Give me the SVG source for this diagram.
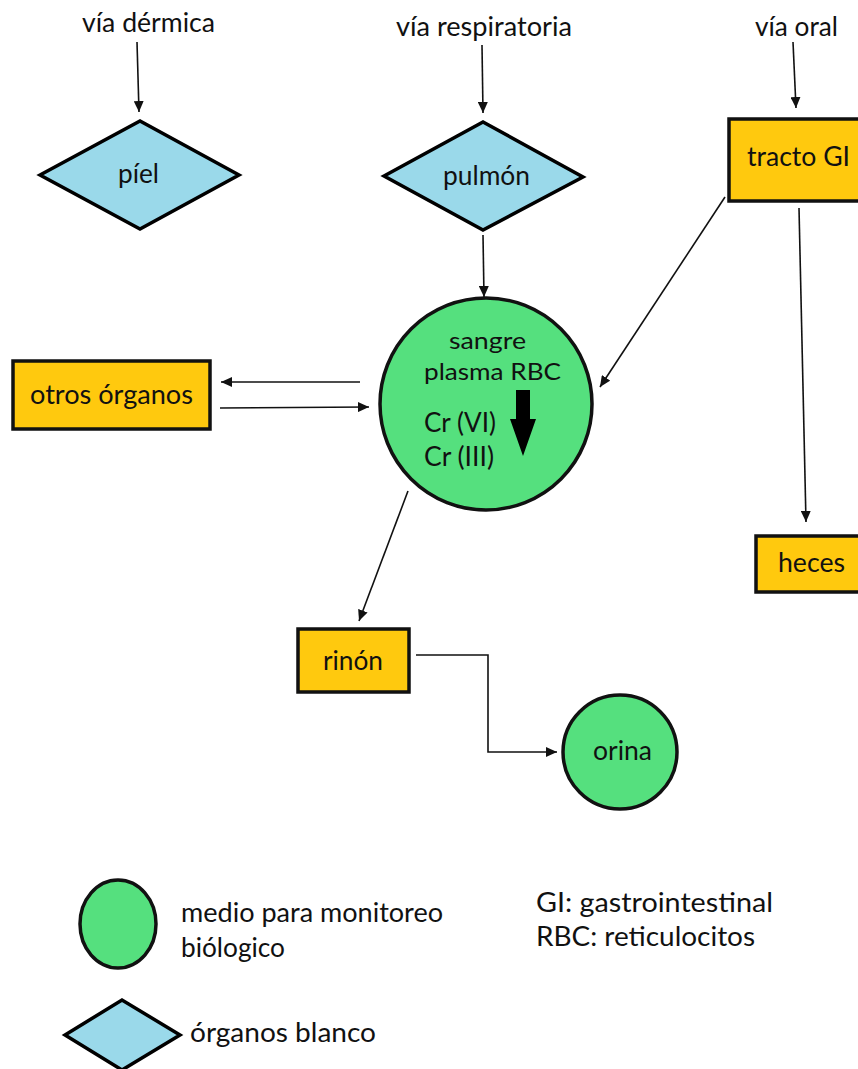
<svg xmlns="http://www.w3.org/2000/svg" width="858" height="1069" viewBox="0 0 858 1069">
<style>
text{font-family:Lato,"Open Sans","Liberation Sans",sans-serif;font-size:26px;fill:#111;}
.sm{font-size:24px;}
.dia{fill:#9AD9EA;stroke:#000;stroke-width:3.5;stroke-linejoin:miter;}
.box{fill:#FFC90E;stroke:#111;stroke-width:3.5;}
.circ{fill:#55E07E;stroke:#111;stroke-width:3.5;}
.con{fill:none;stroke:#111;stroke-width:1.6;marker-end:url(#ah);}
</style>
<defs>
<marker id="ah" markerUnits="userSpaceOnUse" markerWidth="11" markerHeight="10" refX="11" refY="5" orient="auto">
<path d="M0,0 L11,5 L0,10 z" fill="#111"/>
</marker>
</defs>
<g id="labels">
<text x="82" y="32" textLength="133" lengthAdjust="spacingAndGlyphs">vía dérmica</text>
<text x="396" y="36" textLength="176" lengthAdjust="spacingAndGlyphs">vía respiratoria</text>
<text x="755" y="36" textLength="83" lengthAdjust="spacingAndGlyphs">vía oral</text>
</g>
<g id="connectors">
<line class="con" x1="137" y1="42" x2="139" y2="112"/>
<line class="con" x1="482" y1="45" x2="483" y2="113"/>
<line class="con" x1="793" y1="42" x2="796" y2="108"/>
<line class="con" x1="483" y1="235" x2="484" y2="297"/>
<line class="con" x1="725" y1="197" x2="600" y2="387"/>
<line class="con" x1="799" y1="208" x2="806" y2="522"/>
<line class="con" x1="360" y1="382" x2="221" y2="382"/>
<line class="con" x1="220" y1="408" x2="369" y2="407"/>
<line class="con" x1="408" y1="491" x2="359" y2="621"/>
<polyline class="con" points="416,655 488,655 488,752 557,752"/>
</g>
<g id="piel">
<polygon class="dia" points="40,175 140,121 239,175 140,229"/>
<text x="118" y="183" textLength="41" lengthAdjust="spacingAndGlyphs">píel</text>
</g>
<g id="pulmon">
<polygon class="dia" points="384,176 483,122 583,177 483,230"/>
<text x="443" y="185" textLength="87" lengthAdjust="spacingAndGlyphs">pulmón</text>
</g>
<g id="tracto">
<rect class="box" x="729" y="119" width="135" height="82"/>
<text x="747" y="166" textLength="103" lengthAdjust="spacingAndGlyphs">tracto GI</text>
</g>
<g id="otros">
<rect class="box" x="13" y="361" width="197" height="68"/>
<text x="30" y="404" textLength="163" lengthAdjust="spacingAndGlyphs">otros órganos</text>
</g>
<g id="sangre">
<circle class="circ" cx="486" cy="404" r="106"/>
<text class="sm" x="449" y="349" textLength="77" lengthAdjust="spacingAndGlyphs">sangre</text>
<text class="sm" x="424" y="380" textLength="137" lengthAdjust="spacingAndGlyphs">plasma RBC</text>
<text x="424" y="432" textLength="72" lengthAdjust="spacingAndGlyphs">Cr (VI)</text>
<text x="424" y="466" textLength="70" lengthAdjust="spacingAndGlyphs">Cr (III)</text>
<polygon points="516,390 530,390 530,419 536,419 523,456 510,419 516,419" fill="#000"/>
</g>
<g id="heces">
<rect class="box" x="756" y="536" width="106" height="56"/>
<text x="778" y="572" textLength="67" lengthAdjust="spacingAndGlyphs">heces</text>
</g>
<g id="rinon">
<rect class="box" x="298" y="629" width="111" height="63"/>
<text x="323" y="670" textLength="60" lengthAdjust="spacingAndGlyphs">rinón</text>
</g>
<g id="orina">
<circle class="circ" cx="620" cy="752" r="57"/>
<text x="593" y="760" textLength="59" lengthAdjust="spacingAndGlyphs">orina</text>
</g>
<g id="legend">
<ellipse class="circ" cx="118" cy="924" rx="38" ry="44"/>
<text x="181" y="922" textLength="262" lengthAdjust="spacingAndGlyphs">medio para monitoreo</text>
<text x="181" y="957" textLength="104" lengthAdjust="spacingAndGlyphs">biólogico</text>
<text x="536" y="912" textLength="237" lengthAdjust="spacingAndGlyphs">GI: gastrointestinal</text>
<text x="536" y="946" textLength="219" lengthAdjust="spacingAndGlyphs">RBC: reticulocitos</text>
<polygon class="dia" points="65,1035 122,1000 180,1035 122,1070"/>
<text x="190" y="1042" textLength="186" lengthAdjust="spacingAndGlyphs">órganos blanco</text>
</g>
</svg>
